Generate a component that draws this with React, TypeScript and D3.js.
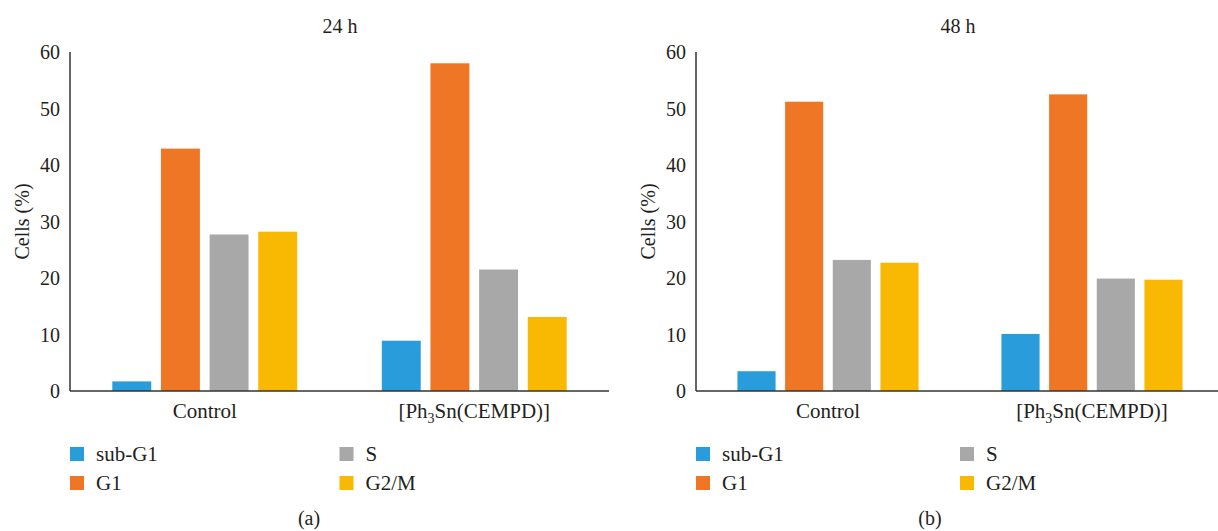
import React from 'react';
import * as d3 from 'd3';

// cell cycle phases
const phases = ['sub-G1', 'G1', 'S', 'G2/M'];
const groups = ['Control', 'Ph3Sn'];
const yTicks = [0, 10, 20, 30, 40, 50, 60];

const control24 = [1.7, 42.9, 27.7, 28.2];
const tin24 = [8.9, 58.0, 21.5, 13.1];
const control48 = [3.5, 51.2, 23.2, 22.7];
const tin48 = [10.1, 52.5, 19.9, 19.7];

const colors = ['#299CDB', '#EE7624', '#A8A8A8', '#F9B801'];
const textColor = '#231F20';
const font = '"Liberation Serif"';

const W = 1218;
const H = 531;

type PanelProps = {
  title: string;
  tag: string;
  left: number;
  right: number;
  titleX: number;
  tagX: number;
  data: number[][];
};

const Panel = ({ title, tag, left, right, titleX, tagX, data }: PanelProps) => {
  const top = 52;
  const bottom = 391;

  const y = d3.scaleLinear().domain([0, 60]).range([bottom, top]);
  const x = d3.scaleBand().domain(groups).range([left, right]);
  const bw = x.bandwidth();
  const inner = d3.scaleBand()
    .domain(phases)
    .range([bw * 0.157, bw * 0.843])
    .paddingInner(0.2);

  return (
    <g style={{ fontFamily: font }} fill={textColor}>
      <text x={titleX} y={33} fontSize={20} textAnchor="middle">{title}</text>

      {/* y axis */}
      <line x1={left} x2={left} y1={top} y2={bottom} stroke="#333" strokeWidth={1.5} />
      {yTicks.map(t => (
        <text key={t} x={left - 10} y={y(t)} dy="0.35em" fontSize={20} textAnchor="end">{t}</text>
      ))}
      <text
        transform={`translate(${left - 48},${(top + bottom) / 2}) rotate(-90)`}
        fontSize={20}
        textAnchor="middle"
        dy="0.35em"
      >
        Cells (%)
      </text>

      {/* bars */}
      {groups.map((g, gi) => (
        <g key={g} transform={`translate(${x(g)},0)`}>
          {phases.map((p, pi) => (
            <rect
              key={p}
              x={inner(p)}
              y={y(data[gi][pi])}
              width={inner.bandwidth()}
              height={bottom - y(data[gi][pi])}
              fill={colors[pi]}
            />
          ))}
        </g>
      ))}

      {/* x axis */}
      <line x1={left} x2={right} y1={bottom} y2={bottom} stroke="#333" strokeWidth={1.5} />
      <text x={x('Control')! + bw / 2} y={418} fontSize={21} textAnchor="middle">Control</text>
      <text x={x('Ph3Sn')! + bw / 2} y={418} fontSize={21} textAnchor="middle">
        [Ph<tspan fontSize={14} dy={5}>3</tspan><tspan dy={-5}>Sn(CEMPD)]</tspan>
      </text>

      {/* legend */}
      {phases.map((p, i) => {
        const lx = i < 2 ? left : x('Ph3Sn')!;
        const ly = i % 2 === 0 ? 454 : 483;
        return (
          <g key={p} transform={`translate(${lx},${ly})`}>
            <rect x={0} y={-7} width={14} height={14} fill={colors[i]} />
            <text x={26} y={0} dy="0.33em" fontSize={21}>{p}</text>
          </g>
        );
      })}

      <text x={tagX} y={525} fontSize={20} textAnchor="middle">{tag}</text>
    </g>
  );
};

export default function App() {
  return (
    <svg width={W} height={H} style={{ position: 'absolute', left: 0, top: 0, background: '#fff' }}>
      <Panel title="24 h" tag="(a)" left={70} right={609} titleX={340} tagX={309} data={[control24, tin24]} />
      <Panel title="48 h" tag="(b)" left={696} right={1224} titleX={958} tagX={930} data={[control48, tin48]} />
    </svg>
  );
}
